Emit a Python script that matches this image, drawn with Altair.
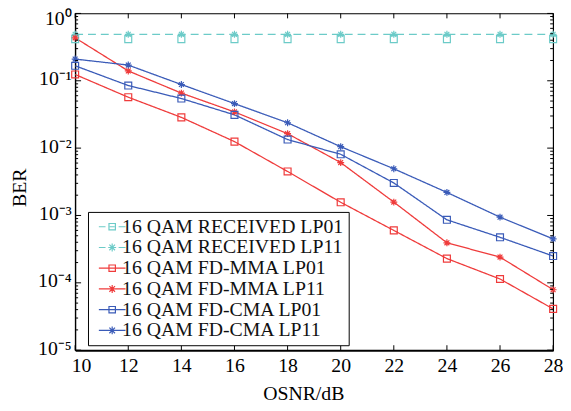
import altair as alt
import pandas as pd

osnr = [10, 12, 14, 16, 18, 20, 22, 24, 26, 28]
series_names = [
    "16 QAM RECEIVED LP01",
    "16 QAM RECEIVED LP11",
    "16 QAM FD-MMA LP01",
    "16 QAM FD-MMA LP11",
    "16 QAM FD-CMA LP01",
    "16 QAM FD-CMA LP11",
]
received_lp01 = [0.415, 0.415, 0.415, 0.415, 0.415, 0.415, 0.415, 0.415, 0.415, 0.415]
received_lp11 = [0.49, 0.49, 0.49, 0.49, 0.49, 0.49, 0.49, 0.49, 0.49, 0.49]
mma_lp01 = [0.124, 0.057, 0.0286, 0.0125, 0.0045, 0.00157, 0.0006, 0.000229, 0.000114, 4.1e-5]
mma_lp11 = [0.434, 0.14, 0.0656, 0.0345, 0.0164, 0.0061, 0.00158, 0.000393, 0.000241, 7.9e-5]
cma_lp01 = [0.167, 0.085, 0.0545, 0.0312, 0.0134, 0.0081, 0.00304, 0.000862, 0.000474, 0.00025]
cma_lp11 = [0.21, 0.171, 0.088, 0.0458, 0.0238, 0.0105, 0.00494, 0.0022, 0.000944, 0.000449]

x_ticks = [10, 12, 14, 16, 18, 20, 22, 24, 26, 28]
y_major = [1e-5, 1e-4, 1e-3, 1e-2, 1e-1, 1]
y_minor = [m * d for d in [1e-5, 1e-4, 1e-3, 1e-2, 1e-1] for m in range(2, 10)]

series_values = [received_lp01, received_lp11, mma_lp01, mma_lp11, cma_lp01, cma_lp11]
rows = []
for name, vals in zip(series_names, series_values):
    for xv, yv in zip(osnr, vals):
        rows.append({"osnr": xv, "ber": yv, "series": name})
df = pd.DataFrame(rows)

CYAN = "#6ccbc8"
RED = "#ef3b3b"
BLUE = "#3a5bb8"
colors = [CYAN, CYAN, RED, RED, BLUE, BLUE]

W, H = 484, 341
FONT = "Liberation Serif"

xscale = alt.Scale(domain=[10, 28], nice=False)
yscale = alt.Scale(type="log", domain=[1e-5, 1], nice=False)


def cscale():
    return alt.Scale(domain=series_names, range=colors)


# marker paths
SQ = "M-1,-1H1V1H-1Z"
ST = "M0,-1V1M-1,0H1M-0.7,-0.7L0.7,0.7M-0.7,0.7L0.7,-0.7"
marker_paths = [SQ, ST, SQ, ST, SQ, ST]

# legend symbol paths (scale 5 px / unit)
sqL = "M-0.65,-0.65H0.65V0.65H-0.65Z"
stL = "M0,-0.8V0.8M-0.8,0H0.8M-0.57,-0.57L0.57,0.57M-0.57,0.57L0.57,-0.57"
solid = "M-2.7,0H2.7"
dashed = "M-2.7,0H-1.35M-0.5,0H0.5M1.3,0H2.7"
legend_paths = [dashed + sqL, dashed + stL, solid + sqL, solid + stL, solid + sqL, solid + stL]

x_axis = alt.Axis(
    values=x_ticks, tickSize=0, labelPadding=6, labelFontSize=20, labelFont=FONT,
    labelColor="black", title="OSNR/dB", titleFont=FONT, titleFontSize=20,
    titleFontWeight="normal", titleColor="black", grid=False,
    titleX=231, titleY=50, titleBaseline="alphabetic", titleAlign="center",
    domainColor="black", domainWidth=2, labelFlush=False,
    labelOffset={"condition": {"test": "datum.value == 10", "value": 6}, "value": 0},
)
y_axis = alt.Axis(
    values=y_major, tickSize=0, labelPadding=4, labelFontSize=20, labelFont=FONT,
    labelColor="black", title="BER", titleFont=FONT, titleFontSize=20,
    titleFontWeight="normal", titleColor="black", grid=False,
    titleX=-56, titleY=176, titleBaseline="middle", titleAlign="center", titleAngle=270,
    domainColor="black", domainWidth=1.2, labelOverlap=False,
    labelOffset={"condition": {"test": "datum.value == 1", "value": 5}, "value": -2},
    labelExpr="['10⁰','10⁻¹','10⁻²','10⁻³','10⁻⁴','10⁻⁵'][round(-log(datum.value)/LN10)]",
)

base = alt.Chart(df)

lines = base.transform_filter(
    alt.datum.series != "16 QAM RECEIVED LP01"
).mark_line(strokeWidth=1.3, clip=True).encode(
    x=alt.X("osnr:Q", scale=xscale, axis=x_axis),
    y=alt.Y("ber:Q", scale=yscale, axis=y_axis),
    color=alt.Color("series:N", scale=cscale(), legend=None),
    strokeDash=alt.StrokeDash(
        "series:N",
        scale=alt.Scale(domain=series_names,
                        range=[[8, 5], [8, 5], [1, 0], [1, 0], [1, 0], [1, 0]]),
        legend=None,
    ),
    detail="series:N",
)

points = base.mark_point(filled=False, strokeWidth=1.2, size=49, opacity=1).encode(
    x=alt.X("osnr:Q", scale=xscale),
    y=alt.Y("ber:Q", scale=yscale),
    color=alt.Color("series:N", scale=cscale(), legend=None),
    shape=alt.Shape("series:N", scale=alt.Scale(domain=series_names, range=marker_paths), legend=None),
)


def make_legend():
    return alt.Legend(
        title=None, orient="none", legendX=13, legendY=201,
        labelFont=FONT, labelFontSize=20, labelColor="#111111",
        symbolSize=100, symbolStrokeWidth=1.2, symbolOpacity=1,
        symbolOffset=9.5, labelOffset=0, padding=5, rowPadding=1,
        strokeColor="black", fillColor="white", labelLimit=400,
    )


legend_layer = base.mark_point(filled=False, strokeWidth=1.2, size=100, opacity=0).encode(
    x=alt.X("osnr:Q", scale=xscale),
    y=alt.Y("ber:Q", scale=yscale),
    color=alt.Color("series:N", scale=cscale(), legend=make_legend()),
    shape=alt.Shape("series:N", scale=alt.Scale(domain=series_names, range=legend_paths),
                    legend=make_legend()),
)

# inward ticks
xt = pd.DataFrame({"osnr": x_ticks})
ymaj = pd.DataFrame({"ber": y_major})
ymin = pd.DataFrame({"ber": y_minor})

xt_bottom = alt.Chart(xt).mark_rule(color="black", strokeWidth=1).encode(
    x=alt.X("osnr:Q", scale=xscale), y=alt.value(H), y2=alt.value(H - 5))
xt_top = alt.Chart(xt).mark_rule(color="black", strokeWidth=1).encode(
    x=alt.X("osnr:Q", scale=xscale), y=alt.value(0), y2=alt.value(5))
yt_left = alt.Chart(ymaj).mark_rule(color="black", strokeWidth=1).encode(
    y=alt.Y("ber:Q", scale=yscale), x=alt.value(0), x2=alt.value(6))
yt_right = alt.Chart(ymaj).mark_rule(color="black", strokeWidth=1).encode(
    y=alt.Y("ber:Q", scale=yscale), x=alt.value(W), x2=alt.value(W - 6))
ym_left = alt.Chart(ymin).mark_rule(color="black", strokeWidth=1).encode(
    y=alt.Y("ber:Q", scale=yscale), x=alt.value(0), x2=alt.value(3))
ym_right = alt.Chart(ymin).mark_rule(color="black", strokeWidth=1).encode(
    y=alt.Y("ber:Q", scale=yscale), x=alt.value(W), x2=alt.value(W - 3))

chart = alt.layer(
    lines, points, legend_layer,
    xt_bottom, xt_top, yt_left, yt_right, ym_left, ym_right,
).resolve_scale(shape="independent", color="independent").properties(
    width=W, height=H,
    autosize=alt.AutoSizeParams(type="none"),
    padding={"left": 68, "top": 3, "right": 10, "bottom": 51},
    background="white",
).configure_view(stroke="black", strokeWidth=1.2)

chart.save("out.html", embed_options={"renderer": "svg", "actions": False})
